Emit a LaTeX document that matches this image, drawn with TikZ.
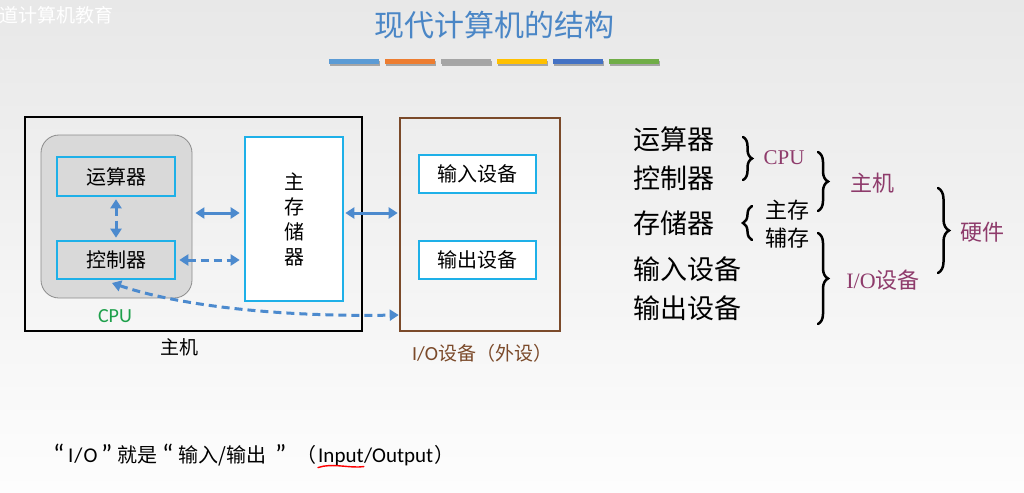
\documentclass[tikz,border=0pt]{standalone}
\usepackage{fontspec}
\newfontfamily\cjk{Noto Sans CJK SC}
\newfontfamily\tms{Liberation Serif}
\newfontfamily\calfont{Carlito}
\usetikzlibrary{arrows.meta,decorations.pathreplacing}
\definecolor{bgtop}{RGB}{232,232,232}
\definecolor{bgbot}{RGB}{253,253,253}
\definecolor{titlec}{RGB}{74,134,198}
\definecolor{cyanb}{RGB}{30,176,232}
\definecolor{cpufill}{RGB}{217,217,217}
\definecolor{cpuborder}{RGB}{140,140,140}
\definecolor{brownb}{RGB}{123,74,42}
\definecolor{arrowc}{RGB}{76,138,206}
\definecolor{purp}{RGB}{142,59,107}
\definecolor{greenc}{RGB}{30,160,75}
\definecolor{b1}{RGB}{91,155,213}
\definecolor{b2}{RGB}{237,125,49}
\definecolor{b3}{RGB}{165,165,165}
\definecolor{b4}{RGB}{255,192,0}
\definecolor{b5}{RGB}{68,114,196}
\definecolor{b6}{RGB}{112,173,71}
\newcommand\fsz[1]{\fontsize{#1}{#1}\selectfont}
\begin{document}
\begin{tikzpicture}[x=1pt,y=-1pt,
  txt/.style={inner sep=0pt, font=\cjk\fsz{20}},
  rtxt/.style={inner sep=0pt, font=\cjk\fsz{27}, anchor=west},
  ptxt/.style={inner sep=0pt, font=\cjk\fsz{22}, text=purp},
  ntxt/.style={inner sep=0pt, font=\cjk\fsz{20}, anchor=base west},
  ltxt/.style={inner sep=0pt, font=\calfont\fsz{21}, anchor=base west},
  qtxt/.style={inner sep=0pt, font=\calfont\fsz{27}, anchor=base west},
  cbox/.style={draw=cyanb, line width=2.6pt, inner sep=0pt, font=\cjk\fsz{20}},
  arr/.style={draw=arrowc, line width=3pt, {Triangle[length=9pt,width=11pt]}-{Triangle[length=9pt,width=11pt]}},
  dsh/.style={arr, dash pattern=on 8pt off 5pt},
  brc/.style={decorate, decoration={brace, amplitude=#1}, line width=2.5pt, line cap=round},
  brc/.default=9pt,
  bar/.style={inner sep=0pt, minimum width=50pt, minimum height=5pt}
]
\useasboundingbox (0,0) rectangle (1024,492);
\shade[top color=bgtop, bottom color=bgbot] (0,0) rectangle (1024,492);

% watermark
\node[inner sep=0pt, anchor=west, text=white, font=\cjk\fsz{19}] (wm) at (-1,15) {道计算机教育};

% title
\node[inner sep=0pt, text=titlec, font=\cjk\fsz{30}] (title) at (494,25) {现代计算机的结构};
\foreach \c [count=\i] in {b1,b2,b3,b4,b5,b6}{
  \fill[black!35] (329+56*\i-56+1,60+1.5) rectangle ++(50,5);
  \node[bar, fill=\c] (bar\i) at (354+56*\i-56,61.5) {};
}

% host box
\node[draw=black, line width=2.6pt, minimum width=337pt, minimum height=214pt, inner sep=0pt] (host) at (193.5,224) {};
\node[draw=cpuborder, fill=cpufill, line width=0.8pt, rounded corners=18pt, minimum width=151pt, minimum height=163pt, inner sep=0pt] (cpu) at (116.5,216.5) {};
\node[cbox, fill=cpufill, minimum width=118pt, minimum height=39pt] (alu) at (116,176.5) {运算器};
\node[cbox, fill=cpufill, minimum width=118pt, minimum height=38pt] (ctrl) at (116,260) {控制器};
\node[cbox, fill=white, minimum width=98pt, minimum height=164pt, align=center, font=\cjk\fontsize{20}{25}\selectfont] (mem) at (294,219) {主\\存\\储\\器};

% IO box
\node[draw=brownb, line width=2.6pt, minimum width=160pt, minimum height=213pt, inner sep=0pt] (io) at (480,224.5) {};
\node[cbox, fill=white, minimum width=117pt, minimum height=38pt] (in) at (477.5,174) {输入设备};
\node[cbox, fill=white, minimum width=117pt, minimum height=38pt] (out) at (477.5,260) {输出设备};

% labels
\node[inner sep=0pt, text=greenc, font=\calfont\fsz{20}] (cpulbl) at (115,316) {CPU};
\node[txt, font=\cjk\fsz{19}] (hostlbl) at (179,347) {主机};
\node[inner sep=0pt, text=brownb, font=\cjk\fsz{19}] (iolbl) at (482,353) {{\calfont\fsz{20}I/O}设备（外设）};

% connectors
\draw[dsh, shorten <=2pt, shorten >=2pt] (alu.south) -- (ctrl.north);
\draw[arr, shorten <=3pt, shorten >=4pt] (cpu.east |- 0,213) -- (mem.west |- 0,213);
\draw[dsh, shorten <=3pt, shorten >=4pt] (ctrl.east) -- (ctrl.east -| mem.west);
\draw[arr, shorten <=1pt, shorten >=1pt] (mem.east |- 0,213) -- (io.west |- 0,213);
\coordinate (cs) at (112,283);
\draw[dsh] (cs) .. controls (180,306) and (280,317) .. (io.west |- 0,315);

% right side hierarchy
\node[rtxt] (r1) at (633,139) {运算器};
\node[rtxt] (r2) at (633,178) {控制器};
\node[rtxt] (r3) at (633,223) {存储器};
\node[rtxt] (r4) at (633,269) {输入设备};
\node[rtxt] (r5) at (633,308) {输出设备};

\draw[brc=9pt] (743,137) -- (743,180);
\node[inner sep=0pt, text=purp, font=\tms\fsz{21}] (pcpu) at (784,158) {CPU};
\draw[brc=10pt] (818,152) -- (818,211);
\node[ptxt] (phost) at (872,183) {主机};
\draw[brc=9pt] (752,240) -- (752,206);
\node[txt, font=\cjk\fsz{22}] (zc) at (787,210) {主存};
\node[txt, font=\cjk\fsz{22}] (fc) at (787,238) {辅存};
\draw[brc=10pt] (818,233) -- (818,324);
\node[ptxt] (pio) at (883,280) {{\tms I/O}设备};
\draw[brc=11pt] (938,188) -- (938,273);
\node[ptxt] (phw) at (982,232) {硬件};

% bottom note
\node[qtxt] (n1) at (53,463) {“};
\node[ltxt] (n2) at (68,462) {I\kern1pt/\kern1ptO};
\node[qtxt] (n3) at (101,463) {”};
\node[ntxt] (n4) at (117,462) {就是};
\node[qtxt] (n5) at (162,463) {“};
\node[ntxt] (n6) at (178,462) {输入/输出};
\node[qtxt] (n7) at (275,463) {”};
\node[ntxt] (n8) at (296,462) {（};
\node[ltxt] (n9) at (318,462) {Input};
\node[ltxt] (n10) at (n9.base east) {/Output};
\node[ntxt] (n11) at ([xshift=1pt]n10.base east) {）};
\draw[red, line width=1.4pt, line cap=round] ([yshift=-2pt]n9.south west) .. controls ([shift={(14,-3)}]n9.south west) and ([shift={(-14,3)}]n9.south east) .. ([yshift=-1pt]n9.south east);
\end{tikzpicture}
\end{document}
